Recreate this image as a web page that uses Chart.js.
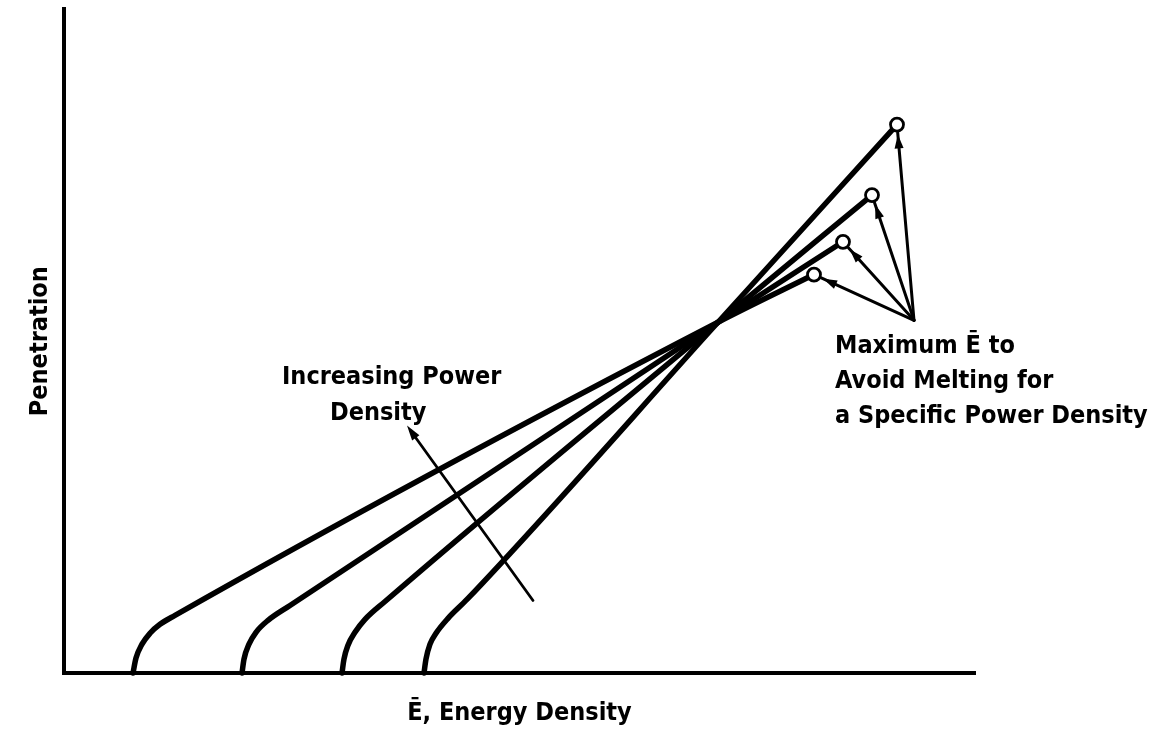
<!DOCTYPE html>
<html>
<head>
<meta charset="utf-8">
<style>
  html, body { margin: 0; padding: 0; background: #ffffff; }
  #wrap { width: 1153px; height: 737px; }
</style>
</head>
<body>
<div id="wrap"><canvas id="c" width="1153" height="737"></canvas></div>
<script src="https://cdn.jsdelivr.net/npm/chart.js@4/dist/chart.umd.min.js"></script>
<script>
// ---- Data (schematic units: x = energy density, y = penetration) ----
const seriesNames = ['Power density 1', 'Power density 2', 'Power density 3', 'Power density 4'];

const curve1X = [69, 72, 78, 86, 96, 111, 654, 750];
const curve1Y = [0, 15, 29, 40, 49, 58, 353, 401];

const curve2X = [178, 180, 185, 192, 204, 226, 654, 779];
const curve2Y = [0, 14, 29, 41, 53, 68, 353, 434];

const curve3X = [278, 280, 284, 291, 301, 321, 654, 808];
const curve3Y = [0, 14, 28, 41, 54, 72, 353, 481];

const curve4X = [360, 362, 366, 372, 384, 403, 654, 833];
const curve4Y = [0, 14, 29, 40, 55, 74, 353, 552];

const axisRangeX = [0, 911];
const axisRangeY = [0, 668];

// arrow origin for the "Maximum E" callout (points to the end circles)
const meltArrowOrigin = [850, 355];
// "Increasing Power Density" arrow: tail, head
const powerArrowTail = [469, 73];
const powerArrowHead = [343, 249];

// text
const xTitle = 'Ē, Energy Density';
const yTitle = 'Penetration';
const powerNoteLines = ['Increasing Power', 'Density'];
const powerNoteAnchors = [[218, 291], [266, 255]];
const meltNoteLines = ['Maximum Ē to', 'Avoid Melting for', 'a Specific Power Density'];
const meltNoteAnchors = [[771, 322], [771, 287], [771, 252]];

// ---- Styling ----
const FONT_FAMILY = '"DejaVu Sans Condensed", "Liberation Sans", sans-serif';
const FONT_SIZE = 25;
const INK = '#000000';

const curvesX = [curve1X, curve2X, curve3X, curve4X];
const curvesY = [curve1Y, curve2Y, curve3Y, curve4Y];

const datasets = curvesX.map((xs, i) => ({
  label: seriesNames[i],
  data: xs.map((x, j) => ({ x: x, y: curvesY[i][j] })),
  showLine: true,
  borderColor: INK,
  borderWidth: 5.5,
  cubicInterpolationMode: 'monotone',
  fill: false,
  borderCapStyle: 'round',
  borderJoinStyle: 'round',
  pointRadius: ctx => (ctx.dataIndex === xs.length - 1 ? 6.5 : 0),
  pointHoverRadius: ctx => (ctx.dataIndex === xs.length - 1 ? 6.5 : 0),
  pointBackgroundColor: '#ffffff',
  pointBorderColor: INK,
  pointBorderWidth: 2.8,
  clip: false
}));

function drawArrow(ctx, x0, y0, x1, y1, lineEndBack, tipBack, headLen, headHalf) {
  const dx = x1 - x0, dy = y1 - y0;
  const len = Math.hypot(dx, dy);
  const ux = dx / len, uy = dy / len;
  const ex = x1 - ux * lineEndBack, ey = y1 - uy * lineEndBack;
  ctx.beginPath();
  ctx.moveTo(x0, y0);
  ctx.lineTo(ex, ey);
  ctx.stroke();
  const tx = x1 - ux * tipBack, ty = y1 - uy * tipBack;
  const bx = tx - ux * headLen, by = ty - uy * headLen;
  ctx.beginPath();
  ctx.moveTo(tx, ty);
  ctx.lineTo(bx - uy * headHalf, by + ux * headHalf);
  ctx.lineTo(bx + uy * headHalf, by - ux * headHalf);
  ctx.closePath();
  ctx.fill();
}

const sketchPlugin = {
  id: 'sketch',
  beforeDatasetsDraw(chart) {
    const { ctx, scales: { x, y } } = chart;
    ctx.save();
    ctx.strokeStyle = INK;
    ctx.fillStyle = INK;
    ctx.lineWidth = 3;
    ctx.lineCap = 'round';
    const ox = x.getPixelForValue(meltArrowOrigin[0]);
    const oy = y.getPixelForValue(meltArrowOrigin[1]);
    curvesX.forEach((xs, i) => {
      const ys = curvesY[i];
      const cx = x.getPixelForValue(xs[xs.length - 1]);
      const cy = y.getPixelForValue(ys[ys.length - 1]);
      drawArrow(ctx, ox, oy, cx, cy, 8, 10, 14, 4.5);
    });
    const tx0 = x.getPixelForValue(powerArrowTail[0]);
    const ty0 = y.getPixelForValue(powerArrowTail[1]);
    const tx1 = x.getPixelForValue(powerArrowHead[0]);
    const ty1 = y.getPixelForValue(powerArrowHead[1]);
    ctx.lineWidth = 2.8;
    drawArrow(ctx, tx0, ty0, tx1, ty1, 6, 0, 15, 4.5);
    ctx.restore();
  },
  afterDatasetsDraw(chart) {
    const { ctx, scales: { x, y } } = chart;
    ctx.save();
    ctx.fillStyle = INK;
    ctx.font = 'bold ' + FONT_SIZE + 'px ' + FONT_FAMILY;
    ctx.textAlign = 'left';
    ctx.textBaseline = 'alphabetic';
    powerNoteLines.forEach((t, i) => {
      ctx.fillText(t, x.getPixelForValue(powerNoteAnchors[i][0]), y.getPixelForValue(powerNoteAnchors[i][1]));
    });
    meltNoteLines.forEach((t, i) => {
      ctx.fillText(t, x.getPixelForValue(meltNoteAnchors[i][0]), y.getPixelForValue(meltNoteAnchors[i][1]));
    });
    ctx.restore();
  }
};

const titleFont = { family: FONT_FAMILY, size: FONT_SIZE, weight: 'bold', lineHeight: 1.2 };

new Chart(document.getElementById('c'), {
  type: 'scatter',
  data: { datasets: datasets },
  plugins: [sketchPlugin],
  options: {
    responsive: false,
    maintainAspectRatio: false,
    devicePixelRatio: 1,
    animation: false,
    events: [],
    layout: { padding: { left: 25, top: 5, right: 178, bottom: 9 } },
    plugins: {
      legend: { display: false },
      tooltip: { enabled: false },
      title: { display: false }
    },
    scales: {
      x: {
        type: 'linear',
        min: axisRangeX[0],
        max: axisRangeX[1],
        ticks: { display: false },
        grid: { display: false, drawTicks: false },
        border: { display: true, color: INK, width: 4 },
        title: { display: true, text: xTitle, color: INK, font: titleFont, padding: { top: 25, bottom: 0 } }
      },
      y: {
        type: 'linear',
        min: axisRangeY[0],
        max: axisRangeY[1],
        ticks: { display: false },
        grid: { display: false, drawTicks: false },
        border: { display: true, color: INK, width: 4 },
        title: { display: true, text: yTitle, color: INK, font: titleFont, padding: { top: 0, bottom: 9 } }
      }
    }
  }
});
</script>
</body>
</html>
